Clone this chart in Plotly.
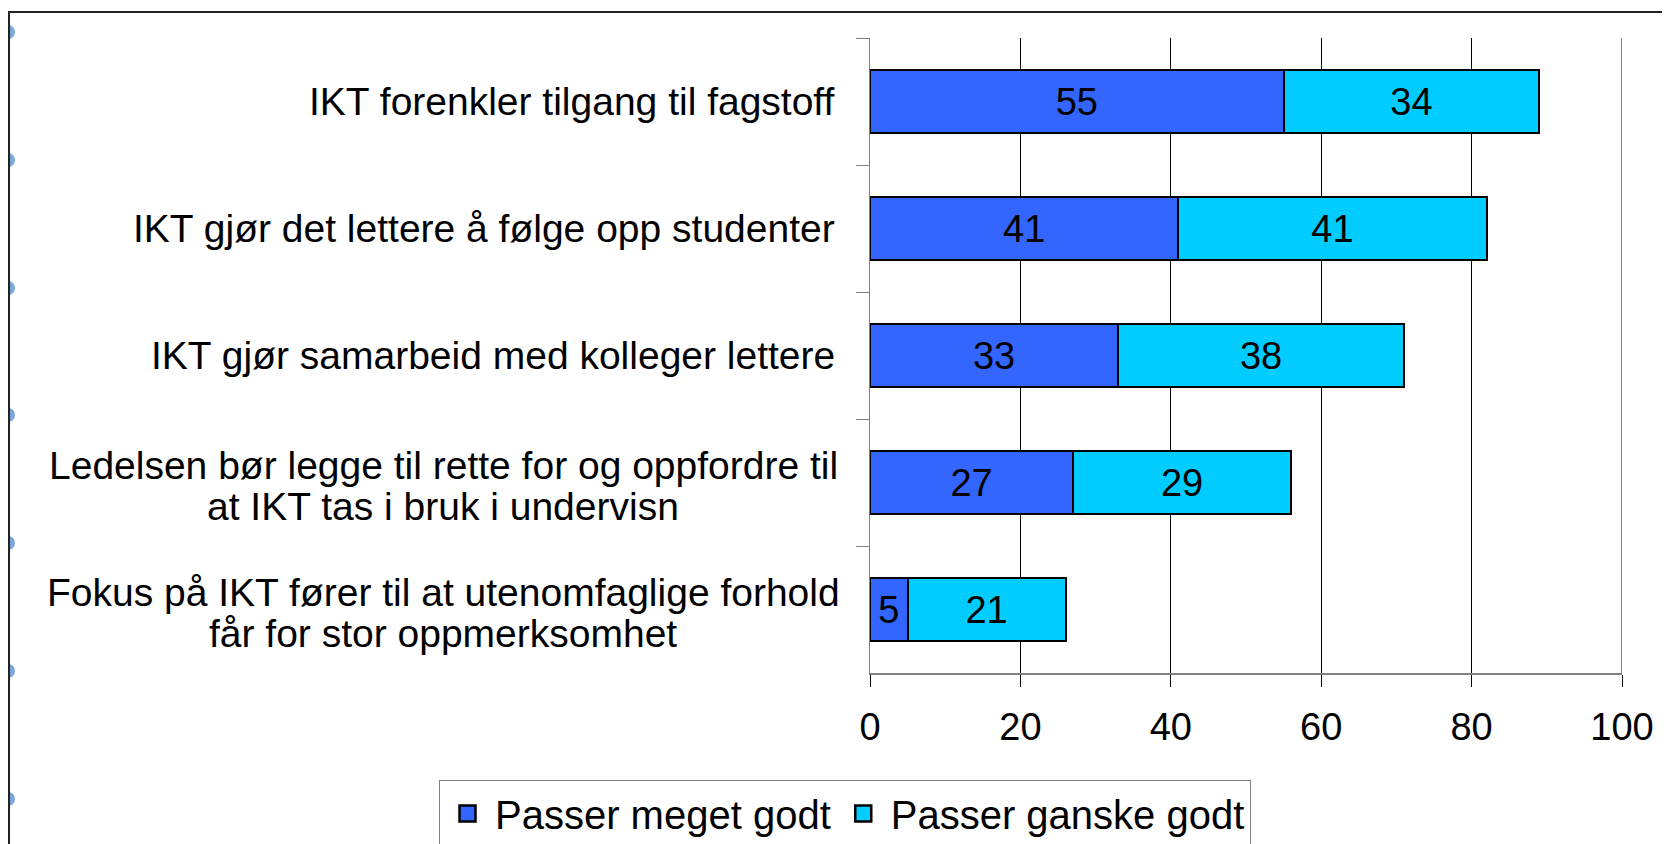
import plotly.graph_objects as go

# Statements (top to bottom) and share of respondents (%)
statements = [
    "IKT forenkler tilgang til fagstoff",
    "IKT gjør det lettere å følge opp studenter",
    "IKT gjør samarbeid med kolleger lettere",
    "Ledelsen bør legge til rette for og oppfordre til<br>at IKT tas i bruk i undervisn",
    "Fokus på IKT fører til at utenomfaglige forhold<br>får for stor oppmerksomhet",
]
meget_godt = [55, 41, 33, 27, 5]
ganske_godt = [34, 41, 38, 29, 21]
series_names = ["Passer meget godt", "Passer ganske godt"]
x_ticks = [0, 20, 40, 60, 80, 100]

FONT = "Liberation Sans, Arial, sans-serif"
COLORS = ["#3366FF", "#00CCFF"]
OFF = 8  # browser body margin
W, H = 1670 - OFF, 844 - OFF
L, R, T, B = 870 - OFF, 48, 38 - OFF, 171
pw, ph = W - L - R, H - T - B


def px_x(p):  # page pixel -> paper x
    return (p - OFF - L) / pw


def px_y(p):  # page pixel -> paper y
    return (H - B - (p - OFF)) / ph


fig = go.Figure()
for name, vals, col in zip(series_names, [meget_godt, ganske_godt], COLORS):
    fig.add_trace(go.Bar(
        y=statements, x=vals, name=name, orientation="h", showlegend=False,
        marker=dict(color=col, line=dict(color="black", width=2)),
        text=vals, textposition="inside", insidetextanchor="middle",
        textangle=0, constraintext="none",
        textfont=dict(size=38, color="black", family=FONT),
    ))
    # legend entry with a bigger square swatch
    fig.add_trace(go.Scatter(
        x=[None], y=[None], mode="markers", name=name,
        marker=dict(symbol="square", size=16, color=col,
                    line=dict(color="black", width=2.5)),
    ))

# category labels (two-line labels: lines centred, tighter spacing)
for s in statements:
    lines = s.split("<br>")
    if len(lines) == 1:
        fig.add_annotation(x=0, xref="paper", y=s, yref="y", text=s,
                           xanchor="right", xshift=-33, showarrow=False,
                           font=dict(size=39, color="black", family=FONT))
    else:
        for i, ln in enumerate(lines):
            fig.add_annotation(x=px_x(443), xref="paper", y=s, yref="y", text=ln,
                               xanchor="center", yshift=17 - 41 * i, showarrow=False,
                               font=dict(size=39, color="black", family=FONT))

shapes = []
for cy in [32, 160, 288, 415, 543, 671, 799]:
    shapes.append(dict(type="circle", xref="paper", yref="paper",
                       x0=px_x(2), x1=px_x(15), y0=px_y(cy - 7), y1=px_y(cy + 7),
                       fillcolor="#7FA6D9", line=dict(width=0), layer="below"))
shapes.append(dict(type="rect", xref="paper", yref="paper",
                   x0=px_x(9), x1=px_x(1700), y0=px_y(12), y1=px_y(900),
                   line=dict(color="#222222", width=2), layer="below"))
shapes.append(dict(type="line", xref="x", yref="paper",
                   x0=x_ticks[-1], x1=x_ticks[-1], y0=0, y1=1,
                   line=dict(color="#808080", width=2)))

fig.update_layout(
    width=W, height=H, barmode="stack", bargap=0.5,
    margin=dict(l=L, r=R, t=T, b=B, autoexpand=False),
    plot_bgcolor="white", paper_bgcolor="white",
    font=dict(family=FONT, size=38, color="black"),
    shapes=shapes,
    legend=dict(orientation="h", x=px_x(845), xanchor="center",
                y=px_y(780), yanchor="top",
                bordercolor="#808080", borderwidth=1,
                font=dict(size=40, family=FONT), traceorder="normal",
                itemwidth=45),
    xaxis=dict(range=[0, 100], tickvals=x_ticks, showgrid=True,
               gridcolor="black", gridwidth=1, zeroline=False,
               showline=True, linecolor="#808080", linewidth=2,
               ticks="outside", ticklen=12, tickcolor="black",
               tickfont=dict(size=38, family=FONT), ticklabelstandoff=7),
    yaxis=dict(autorange="reversed", showticklabels=False,
               showline=True, linecolor="#808080", linewidth=1,
               ticks="outside", tickson="boundaries", ticklen=13,
               tickcolor="#808080", showgrid=False),
)

fig.write_html("out.html")
